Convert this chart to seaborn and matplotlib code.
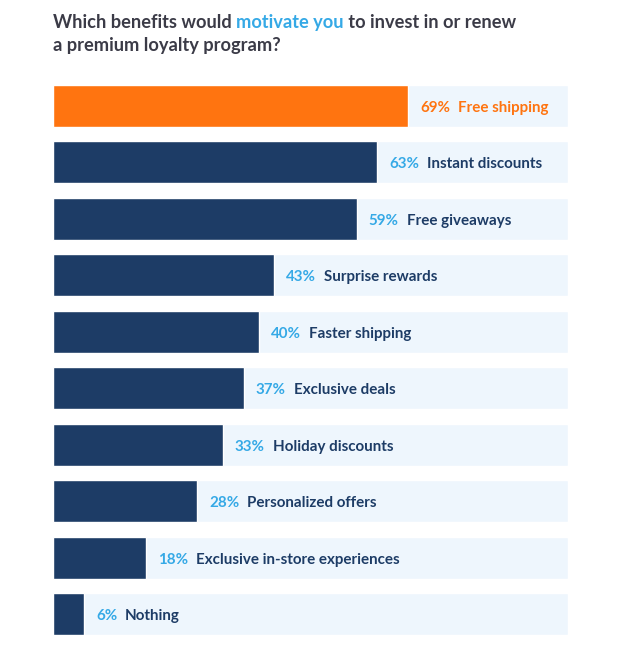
import matplotlib
matplotlib.use("Agg")
import matplotlib.pyplot as plt
import seaborn as sns
import pandas as pd

# Data
categories = ["Free shipping", "Instant discounts", "Free giveaways", "Surprise rewards",
              "Faster shipping", "Exclusive deals", "Holiday discounts", "Personalized offers",
              "Exclusive in-store experiences", "Nothing"]
values = [69, 63, 59, 43, 40, 37, 33, 28, 18, 6]

df = pd.DataFrame({"Benefit": categories, "Share": values})
df["Full"] = 100

navy = "#1d3c66"
orange = "#ff7410"
bg = "#eef6fd"
blue = "#35a9e6"
title_col = "#3b3b47"

sns.set_style("white")
plt.rcParams["font.family"] = ["Lato", "DejaVu Sans"]

fig = plt.figure(figsize=(6.21, 6.49), dpi=100)
ax = fig.add_axes([53 / 621, 1 - 635 / 649, 515 / 621, 550 / 649])

bar_h = 0.745
sns.barplot(data=df, x="Full", y="Benefit", color=bg, width=bar_h, ax=ax, saturation=1)
palette = [orange] + [navy] * (len(values) - 1)
sns.barplot(data=df, x="Share", y="Benefit", hue="Benefit", palette=palette,
            width=bar_h, ax=ax, saturation=1, legend=False)

ax.set_xlim(0, 100)
ax.set_ylim(len(values) - 1 + bar_h / 2, -bar_h / 2)
ax.set_axis_off()

fig.canvas.draw()
renderer = fig.canvas.get_renderer()
for i, (cat, v) in enumerate(zip(categories, values)):
    pct_col = orange if i == 0 else blue
    lab_col = orange if i == 0 else navy
    t = ax.annotate(f"{v}%", xy=(v, i), xytext=(12, -2), textcoords="offset pixels",
                    ha="left", va="center", fontsize=10.9, fontweight="bold", color=pct_col)
    w = t.get_window_extent(renderer).width
    ax.annotate(cat, xy=(v, i), xytext=(12 + w + 8, -2), textcoords="offset pixels",
                ha="left", va="center", fontsize=10.9, fontweight="bold", color=lab_col)

# Title with highlighted words
pieces = [("Which benefits would ", title_col), ("motivate you", blue),
          (" to invest in or renew", title_col)]
x = 53
for txt, col in pieces:
    t = fig.text(x / 621, 1 - 28 / 649, txt, fontsize=13.15, fontweight="bold",
                 color=col, ha="left", va="baseline")
    x += t.get_window_extent(renderer).width
fig.text(53 / 621, 1 - 51 / 649, "a premium loyalty program?", fontsize=13.15,
         fontweight="bold", color=title_col, ha="left", va="baseline")

fig.savefig("out.png", dpi=100)
